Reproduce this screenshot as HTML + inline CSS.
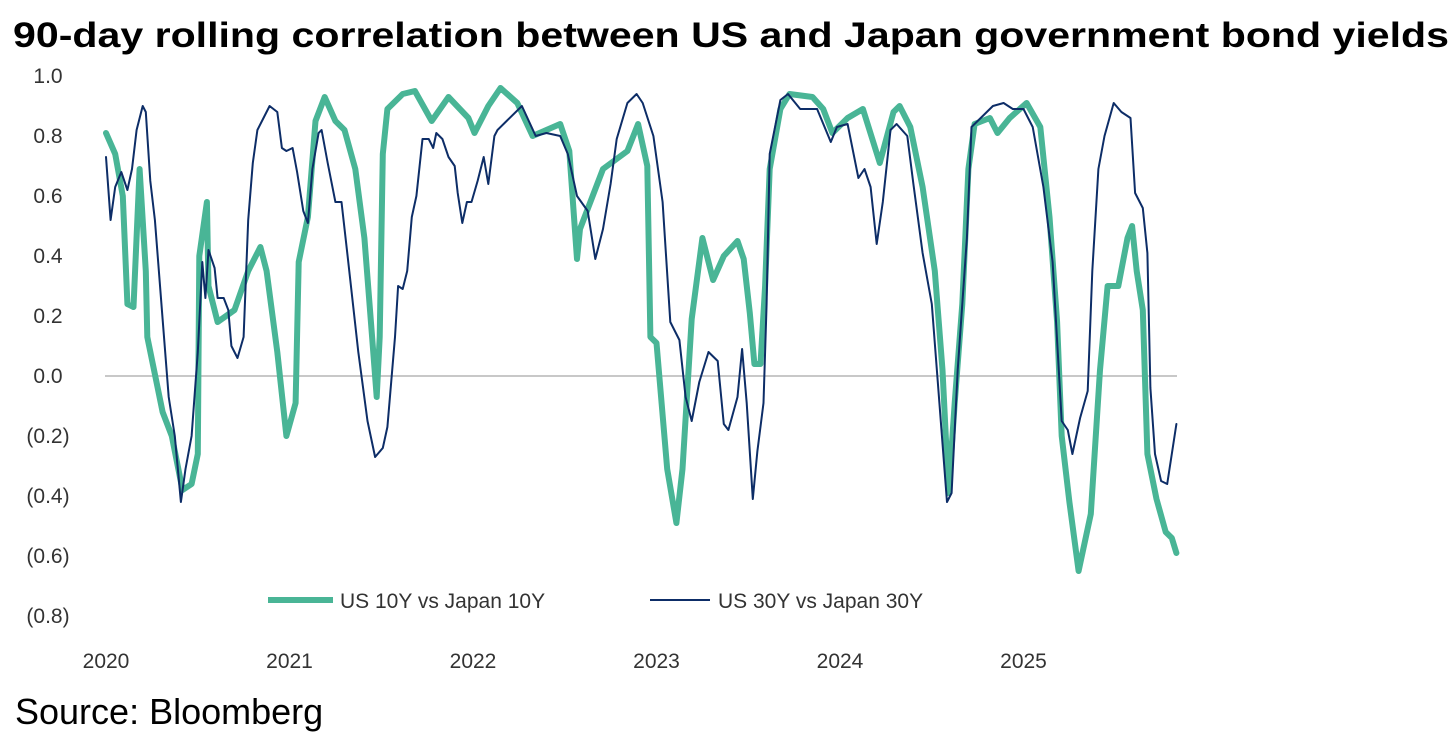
<!DOCTYPE html>
<html><head><meta charset="utf-8"><style>
body{margin:0;background:#fff;}
svg{display:block;font-family:"Liberation Sans",sans-serif;}
</style></head><body>
<svg id="chart" width="1456" height="735" viewBox="0 0 1456 735">
<text x="13" y="47" font-size="35" font-weight="bold" textLength="1436" lengthAdjust="spacingAndGlyphs" fill="#000">90-day rolling correlation between US and Japan government bond yields</text>
<g id="yaxis"></g>
<g id="xaxis"></g>
<line x1="105" x2="1177" y1="376" y2="376" stroke="#c8c8c8" stroke-width="2"/>
<g id="series"></g>
<g>
<line x1="268" x2="333" y1="600" y2="600" stroke="#49b596" stroke-width="6"/>
<text x="340" y="608" font-size="21" fill="#333">US 10Y vs Japan 10Y</text>
<line x1="650" x2="710" y1="600" y2="600" stroke="#0d2d67" stroke-width="2"/>
<text x="718" y="608" font-size="21" fill="#333">US 30Y vs Japan 30Y</text>
</g>
<text x="15" y="724" font-size="36" fill="#000">Source: Bloomberg</text>
</svg>
<script>
// months since Jan 2020 and correlation values
const tenM=[0,.6,1.1,1.4,1.8,2.2,2.6,2.7,3.7,4.3,5.0,5.6,6.0,6.1,6.6,6.7,7.3,8.4,9.3,10.1,10.5,11.2,11.8,12.4,12.6,13.2,13.7,14.3,15.0,15.6,16.3,16.9,17.4,17.7,17.9,18.1,18.4,19.4,20.2,21.3,22.4,23.7,24.1,25.0,25.8,26.9,27.9,29.7,30.3,30.8,31.0,32.5,34.1,34.8,35.4,35.6,36.0,36.7,37.3,37.7,38.3,39.0,39.7,40.4,41.3,41.7,42.1,42.4,42.8,43.1,43.4,44.1,44.7,46.2,46.9,47.5,48.5,49.5,50.6,51.5,51.9,52.6,53.4,54.2,54.7,55.1,55.5,56.0,56.4,56.8,57.8,58.3,59.1,60.2,61.1,61.7,62.2,62.5,63.0,63.6,64.4,65.0,65.5,66.2,66.8,67.1,67.4,67.8,68.1,68.7,69.3,69.7,70.0];
const tenV=[.81,.74,.60,.24,.23,.69,.35,.13,-.12,-.20,-.38,-.36,-.26,.40,.58,.30,.18,.22,.35,.43,.35,.08,-.20,-.09,.38,.53,.85,.93,.85,.82,.69,.46,.13,-.07,.13,.74,.89,.94,.95,.85,.93,.86,.81,.90,.96,.91,.80,.84,.75,.39,.49,.69,.75,.84,.70,.13,.11,-.31,-.49,-.31,.19,.46,.32,.40,.45,.39,.21,.04,.04,.30,.69,.89,.94,.93,.89,.81,.86,.89,.71,.88,.90,.83,.63,.35,.02,-.39,-.09,.24,.69,.84,.86,.81,.86,.91,.83,.53,.18,-.20,-.42,-.65,-.46,.02,.30,.30,.46,.50,.35,.22,-.26,-.41,-.52,-.54,-.59];
const thirtyM=[0,.3,.6,1.0,1.4,1.7,2.0,2.4,2.6,2.9,3.2,3.7,4.1,4.5,4.9,5.2,5.6,6.0,6.3,6.5,6.7,7.1,7.3,7.7,8.0,8.2,8.6,9.0,9.3,9.6,9.9,10.3,10.7,11.2,11.5,11.8,12.2,12.5,12.9,13.2,13.5,13.9,14.1,14.5,15.0,15.4,15.8,16.5,17.1,17.6,18.1,18.4,18.9,19.1,19.4,19.7,20.0,20.3,20.7,21.1,21.4,21.6,22.0,22.4,22.8,23.0,23.3,23.6,23.9,24.3,24.7,25.0,25.4,25.6,26.2,27.2,28.1,28.8,29.7,30.2,30.8,31.5,32.0,32.5,33.0,33.4,34.1,34.7,35.1,35.8,36.4,36.9,37.5,37.9,38.3,38.8,39.4,40.0,40.4,40.7,41.3,41.6,41.9,42.3,42.6,43.0,43.2,43.4,44.1,44.6,45.4,46.5,47.4,47.8,48.5,49.2,49.6,50.0,50.4,50.8,51.3,51.7,52.4,52.8,53.4,54.0,54.5,55.0,55.3,55.7,56.3,56.6,57.2,58.0,58.7,59.3,60.0,60.6,61.3,61.9,62.5,62.9,63.2,63.7,64.2,64.5,64.9,65.3,65.9,66.4,67.0,67.3,67.8,68.1,68.3,68.6,69.0,69.4,69.7,70.0];
const thirtyV=[.73,.52,.63,.68,.62,.69,.82,.90,.88,.65,.52,.19,-.07,-.20,-.42,-.31,-.20,.08,.38,.26,.42,.36,.26,.26,.22,.10,.06,.13,.52,.71,.82,.86,.90,.88,.76,.75,.76,.68,.55,.51,.69,.81,.82,.71,.58,.58,.40,.08,-.15,-.27,-.24,-.17,.13,.30,.29,.35,.53,.60,.79,.79,.76,.81,.79,.73,.70,.61,.51,.58,.58,.65,.73,.64,.80,.82,.85,.90,.80,.81,.80,.74,.60,.55,.39,.49,.64,.79,.91,.94,.91,.80,.58,.18,.12,-.07,-.15,-.02,.08,.05,-.16,-.18,-.07,.09,-.09,-.41,-.25,-.09,.24,.74,.92,.94,.89,.89,.78,.83,.84,.66,.69,.63,.44,.58,.82,.84,.80,.64,.41,.24,-.09,-.42,-.39,.02,.46,.83,.86,.90,.91,.89,.89,.83,.63,.38,-.15,-.18,-.26,-.14,-.05,.35,.69,.80,.91,.88,.86,.61,.56,.41,-.04,-.26,-.35,-.36,-.26,-.16];
const yTicks=[1.0,0.8,0.6,0.4,0.2,0.0,-0.2,-0.4,-0.6,-0.8];
const xYears=[2020,2021,2022,2023,2024,2025];

const NS="http://www.w3.org/2000/svg";
function xs(m){return 106+m*183.5/12;}
function ys(v){return 376-v*300;}
function fmt(v){const s=Math.abs(v).toFixed(1);return v<0?"("+s+")":s;}
const ya=document.getElementById('yaxis');
yTicks.forEach(t=>{
  const el=document.createElementNS(NS,'text');
  el.setAttribute('x',48);el.setAttribute('y',ys(t)+7);
  el.setAttribute('text-anchor','middle');el.setAttribute('font-size','21');el.setAttribute('fill','#333');
  el.textContent=fmt(t);
  
  
  ya.appendChild(el);
});
const xa=document.getElementById('xaxis');
xYears.forEach(y=>{
  const el=document.createElementNS(NS,'text');
  el.setAttribute('x',xs((y-2020)*12));el.setAttribute('y',668);
  el.setAttribute('text-anchor','middle');el.setAttribute('font-size','21');el.setAttribute('fill','#333');
  el.textContent=y;
  
  
  xa.appendChild(el);
});
const sg=document.getElementById('series');
function line(M,V,color,w,name){
  const p=document.createElementNS(NS,'path');
  p.setAttribute('d',M.map((m,i)=>(i?'L':'M')+xs(m).toFixed(1)+' '+ys(V[i]).toFixed(1)).join(''));
  p.setAttribute('fill','none');p.setAttribute('stroke',color);p.setAttribute('stroke-width',w);
  p.setAttribute('stroke-linejoin','round');p.setAttribute('stroke-linecap','round');
  
  
  sg.appendChild(p);
}
line(tenM,tenV,'#49b596',6,'series-us10y-jp10y');
line(thirtyM,thirtyV,'#0d2d67',2,'series-us30y-jp30y');
</script>
</body></html>
